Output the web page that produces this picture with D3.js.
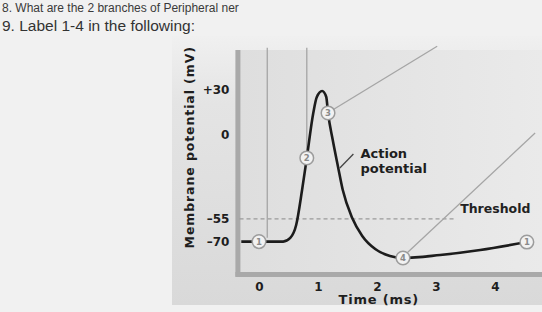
<!DOCTYPE html>
<html>
<head>
<meta charset="utf-8">
<script src="https://cdn.jsdelivr.net/npm/d3@7"></script>
<style>
  html, body { margin: 0; padding: 0; background: #f1f1f1; }
  svg { display: block; }
</style>
</head>
<body>
<div id="chart"></div>
<script>
// 数据
const xTicks = [0, 1, 2, 3, 4];
const yTicks = [30, 0, -55, -70];
const yTickLabels = ["+30", "0", "\u201355", "\u201370"];
const thresholdValue = -55;

// 动作电位曲线 [时间 ms, 电位 mV]
const apTime = [-0.3, 0.41, 0.53, 0.63, 0.73, 0.81, 0.92, 0.98, 1.07, 1.14, 1.17, 1.25, 1.34, 1.42, 1.58, 1.75, 1.97, 2.22, 2.44, 3.07, 3.75, 4.54];
const apVolt = [-70, -70, -67.6, -59.1, -36.1, -15, 14.6, 25.1, 29, 25.1, 14.6, -3.2, -20.9, -36.1, -54.5, -66.3, -74.9, -79.5, -80.8, -78.8, -75.5, -70.3];

// 编号圆点
const markerLabels = ["1", "2", "3", "4", "1"];
const markerTime = [0, 0.81, 1.17, 2.44, 4.54];
const markerVolt = [-70, -15, 14.6, -80.8, -70.3];

// 引线 [t1, v1, t2, v2]
const leaders = [
  [0.14, -67.5, 0.14, 57.5],
  [0.81, -10.5, 0.81, 57.5],
  [1.24, 16.4, 3.02, 58.5],
  [2.49, -78.2, 4.68, 1.4]
];

const width = 542;
const height = 312;
const svg = d3.select("#chart").append("svg")
  .attr("width", width)
  .attr("height", height);

const x = d3.scaleLinear().domain([0, 4]).range([259, 495]);
const y = d3.scaleLinear().domain([-90, 56]).range([272, 50]);

const defs = svg.append("defs");
const bg = defs.append("linearGradient").attr("id", "panelGrad")
  .attr("x1", 0).attr("y1", 0).attr("x2", 0).attr("y2", 1);
bg.append("stop").attr("offset", "0%").attr("stop-color", "#f0f0f0");
bg.append("stop").attr("offset", "25%").attr("stop-color", "#e4e4e4");
bg.append("stop").attr("offset", "100%").attr("stop-color", "#d9d9d9");

const inner = defs.append("linearGradient").attr("id", "innerGrad")
  .attr("x1", 0).attr("y1", 0).attr("x2", 1).attr("y2", 0);
inner.append("stop").attr("offset", "0%").attr("stop-color", "#dedede");
inner.append("stop").attr("offset", "100%").attr("stop-color", "#eaeaea");

// 题目文字
svg.append("text").attr("x", 2).attr("y", 12)
  .attr("font-family", "Liberation Sans, Arial, sans-serif")
  .attr("font-size", 12).attr("fill", "#3a3a3a")
  .text("8. What are the 2 branches of Peripheral ner");
svg.append("text").attr("x", 2).attr("y", 31)
  .attr("font-family", "Liberation Sans, Arial, sans-serif")
  .attr("font-size", 15.5).attr("fill", "#333")
  .text("9. Label 1-4 in the following:");

// 图片背景
svg.append("rect").attr("x", 172).attr("y", 36).attr("width", 370).attr("height", 269)
  .attr("fill", "url(#panelGrad)");
svg.append("rect").attr("x", x(-0.35)).attr("y", y(56)).attr("width", width - x(-0.35)).attr("height", y(-90) - y(56))
  .attr("fill", "url(#innerGrad)");

// 坐标轴粗灰条
svg.append("rect").attr("x", x(-0.4)).attr("y", y(56)).attr("width", 5).attr("height", y(-93) - y(56))
  .attr("fill", "#a9a9a9");
svg.append("rect").attr("x", x(-0.4)).attr("y", y(-90)).attr("width", width - x(-0.4)).attr("height", 5)
  .attr("fill", "#a9a9a9");

// 阈值虚线
svg.append("line")
  .attr("x1", x(-0.33)).attr("x2", x(3.3))
  .attr("y1", y(thresholdValue)).attr("y2", y(thresholdValue))
  .attr("stroke", "#9a9a9a").attr("stroke-width", 1.2)
  .attr("stroke-dasharray", "4,3");
svg.append("text").attr("x", x(3.41)).attr("y", y(thresholdValue) - 6)
  .attr("font-family", "DejaVu Sans, sans-serif").attr("font-weight", "bold")
  .attr("font-size", 12.5).attr("fill", "#222")
  .text("Threshold");

// 引线
svg.append("g").selectAll("line").data(leaders).enter().append("line")
  .attr("x1", d => x(d[0])).attr("y1", d => y(d[1]))
  .attr("x2", d => x(d[2])).attr("y2", d => y(d[3]))
  .attr("stroke", "#a5a5a5").attr("stroke-width", 1.3);

// 动作电位曲线
const apData = apTime.map((t, i) => [t, apVolt[i]]);
const line = d3.line()
  .x(d => x(d[0])).y(d => y(d[1]))
  .curve(d3.curveMonotoneX);
svg.append("path").datum(apData)
  .attr("d", line)
  .attr("fill", "none").attr("stroke", "#1c1c1c").attr("stroke-width", 2.6);

// "Action potential" 标注
svg.append("line")
  .attr("x1", x(1.37)).attr("y1", y(-21.6))
  .attr("x2", x(1.6)).attr("y2", y(-12.4))
  .attr("stroke", "#444").attr("stroke-width", 1.3);
const apLabel = svg.append("text")
  .attr("font-family", "DejaVu Sans, sans-serif").attr("font-weight", "bold")
  .attr("font-size", 13).attr("fill", "#1e1e1e");
apLabel.append("tspan").attr("x", x(1.72)).attr("y", y(-12.2) + 4).text("Action");
apLabel.append("tspan").attr("x", x(1.72)).attr("y", y(-12.2) + 19).text("potential");

// 编号圆点
const markers = svg.append("g").selectAll("g")
  .data(markerLabels.map((l, i) => ({ label: l, t: markerTime[i], v: markerVolt[i] })))
  .enter().append("g")
  .attr("transform", d => `translate(${x(d.t)},${y(d.v)})`);
markers.append("circle").attr("r", 6.8)
  .attr("fill", "#f2f2f2").attr("stroke", "#9c9c9c").attr("stroke-width", 1.5);
markers.append("text").text(d => d.label)
  .attr("text-anchor", "middle").attr("dy", "0.35em")
  .attr("font-family", "DejaVu Sans, sans-serif").attr("font-weight", "bold")
  .attr("font-size", 8.5).attr("fill", "#8a8a8a");

// X 轴
const xAxis = svg.append("g")
  .attr("transform", `translate(0,${y(-90) + 7})`)
  .call(d3.axisBottom(x).tickValues(xTicks).tickSize(0).tickPadding(3).tickFormat(d3.format("d")));
xAxis.select(".domain").remove();
xAxis.selectAll("text")
  .attr("font-family", "DejaVu Sans, sans-serif").attr("font-weight", "bold")
  .attr("font-size", 12).attr("fill", "#1e1e1e");

// Y 轴
const yAxis = svg.append("g")
  .attr("transform", `translate(${x(-0.4) - 6},0)`)
  .call(d3.axisLeft(y).tickValues(yTicks).tickSize(0).tickPadding(0)
    .tickFormat((d, i) => yTickLabels[i]));
yAxis.select(".domain").remove();
yAxis.selectAll("text")
  .attr("font-family", "DejaVu Sans, sans-serif").attr("font-weight", "bold")
  .attr("font-size", 12).attr("fill", "#1e1e1e");

// 轴标题
svg.append("text")
  .attr("x", x(2.03)).attr("y", 304)
  .attr("text-anchor", "middle")
  .attr("font-family", "DejaVu Sans, sans-serif").attr("font-weight", "bold")
  .attr("font-size", 13).attr("fill", "#1e1e1e").attr("letter-spacing", 0.8)
  .text("Time (ms)");
svg.append("text")
  .attr("transform", `translate(194,${(y(56) + y(-72)) / 2}) rotate(-90)`)
  .attr("text-anchor", "middle")
  .attr("font-family", "DejaVu Sans, sans-serif").attr("font-weight", "bold")
  .attr("font-size", 12.5).attr("fill", "#1e1e1e").attr("letter-spacing", 0.9)
  .text("Membrane potential (mV)");
</script>
</body>
</html>
